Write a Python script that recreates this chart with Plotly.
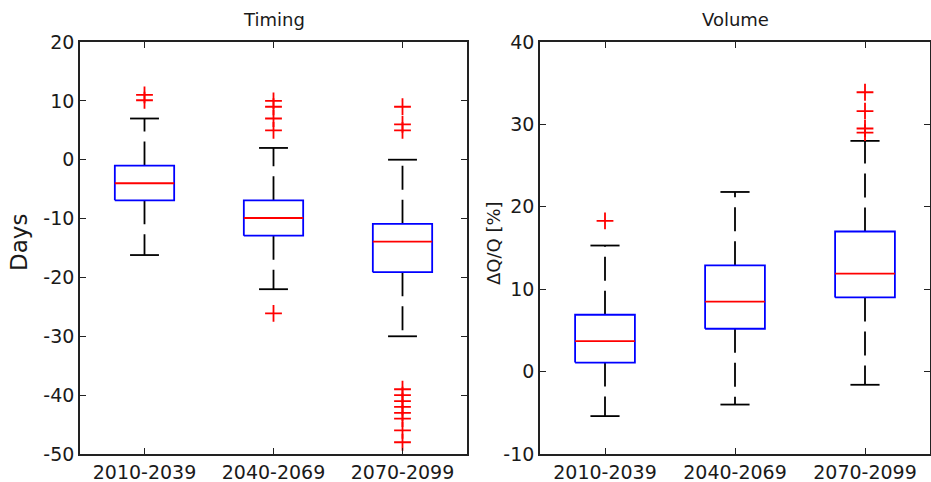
import plotly.graph_objects as go

categories = ["2010-2039", "2040-2069", "2070-2099"]
positions = [1, 2, 3]

timing_ticks = [-50, -40, -30, -20, -10, 0, 10, 20]
timing_ticktext = ["-50", "-40", "-30", "-20", "-10", "0", "10", "20"]
volume_ticks = [-10, 0, 10, 20, 30, 40]
volume_ticktext = ["-10", "0", "10", "20", "30", "40"]

timing_lower = [-16.2, -22.0, -30.0]
timing_q1 = [-6.9, -12.9, -19.1]
timing_median = [-4.0, -9.9, -13.9]
timing_q3 = [-1.0, -6.9, -10.9]
timing_upper = [7.0, 2.0, 0.0]
timing_outliers = [
    [10.1, 11.0],
    [10.0, 9.0, 7.0, 5.0, -26.1],
    [9.0, 6.0, 5.0, -39.0, -40.0, -41.0, -42.0, -43.0, -44.0, -46.0, -48.0],
]

volume_lower = [-5.4, -4.0, -1.6]
volume_q1 = [1.1, 5.2, 9.0]
volume_median = [3.7, 8.5, 11.9]
volume_q3 = [6.9, 12.9, 17.0]
volume_upper = [15.3, 21.8, 28.0]
volume_outliers = [
    [18.3],
    [],
    [33.9, 31.6, 29.5, 29.0],
]

BOX_HALF = 0.23
CAP_HALF = 0.112
LW = 1.8

fig = go.Figure()


def add_boxes(xa, ya, lower, q1, med, q3, upper, outliers):
    for p, lo, a, m, b, up, outs in zip(positions, lower, q1, med, q3, upper, outliers):
        fig.add_trace(go.Scatter(
            x=[p, p, None, p, p], y=[b, up, None, a, lo], mode="lines",
            line=dict(color="black", width=LW, dash="24px,10px"),
            xaxis=xa, yaxis=ya, showlegend=False, hoverinfo="skip"))
        fig.add_trace(go.Scatter(
            x=[p - CAP_HALF, p + CAP_HALF, None, p - CAP_HALF, p + CAP_HALF],
            y=[up, up, None, lo, lo], mode="lines",
            line=dict(color="black", width=LW),
            xaxis=xa, yaxis=ya, showlegend=False, hoverinfo="skip"))
        fig.add_trace(go.Scatter(
            x=[p - BOX_HALF, p + BOX_HALF, p + BOX_HALF, p - BOX_HALF, p - BOX_HALF],
            y=[a, a, b, b, a], mode="lines",
            line=dict(color="#0000ff", width=LW),
            xaxis=xa, yaxis=ya, showlegend=False, hoverinfo="skip"))
        fig.add_trace(go.Scatter(
            x=[p - BOX_HALF, p + BOX_HALF], y=[m, m], mode="lines",
            line=dict(color="#ff0000", width=LW),
            xaxis=xa, yaxis=ya, showlegend=False, hoverinfo="skip"))
        if outs:
            fig.add_trace(go.Scatter(
                x=[p] * len(outs), y=outs, mode="markers",
                marker=dict(symbol="cross-thin", size=12,
                            line=dict(color="#ff0000", width=LW)),
                xaxis=xa, yaxis=ya, showlegend=False, hoverinfo="skip"))


add_boxes("x", "y", timing_lower, timing_q1, timing_median, timing_q3,
          timing_upper, timing_outliers)
add_boxes("x2", "y2", volume_lower, volume_q1, volume_median, volume_q3,
          volume_upper, volume_outliers)

W, H = 931, 482
ydom = [(H - 454) / H, (H - 42) / H]
font = "DejaVu Sans, Verdana, sans-serif"
txt = "#1a1a1a"

axis_common = dict(
    showline=True, linecolor="#222222", linewidth=1.6, mirror="ticks",
    ticks="inside", ticklen=6, tickcolor="#222222", tickwidth=1.3,
    showgrid=False, zeroline=False, automargin=False,
    tickfont=dict(family=font, size=19, color=txt),
)

fig.update_layout(
    width=W, height=H,
    margin=dict(l=0, r=0, t=0, b=0),
    paper_bgcolor="white", plot_bgcolor="white",
    font=dict(family=font, color=txt),
    xaxis=dict(domain=[80 / W, 467 / W], range=[0.5, 3.5], tickvals=positions,
               ticktext=categories, anchor="y", **axis_common),
    yaxis=dict(domain=ydom, range=[-50, 20], tickvals=timing_ticks,
               ticktext=timing_ticktext, anchor="x", **axis_common),
    xaxis2=dict(domain=[540 / W, 930 / W], range=[0.5, 3.5], tickvals=positions,
                ticktext=categories, anchor="y2", **axis_common),
    yaxis2=dict(domain=ydom, range=[-10, 40], tickvals=volume_ticks,
                ticktext=volume_ticktext, anchor="x2", **axis_common),
    annotations=[
        dict(text="Timing", x=(80 + 467) / 2 / W, y=1 - 20 / H, xref="paper", yref="paper",
             showarrow=False, font=dict(family=font, size=18, color=txt),
             xanchor="center", yanchor="middle"),
        dict(text="Volume", x=(540 + 930) / 2 / W, y=1 - 20 / H, xref="paper", yref="paper",
             showarrow=False, font=dict(family=font, size=18, color=txt),
             xanchor="center", yanchor="middle"),
        dict(text="Days", x=19 / W, y=1 - 243 / H, xref="paper", yref="paper",
             showarrow=False, textangle=-90, font=dict(family=font, size=23, color=txt),
             xanchor="center", yanchor="middle"),
        dict(text="ΔQ/Q [%]", x=493 / W, y=1 - 243 / H, xref="paper", yref="paper",
             showarrow=False, textangle=-90, font=dict(family=font, size=18, color=txt),
             xanchor="center", yanchor="middle"),
    ],
)

fig.write_html(
    "out.html",
    config={"displayModeBar": False},
    post_script="document.body.style.margin='0';document.body.style.overflow='hidden';",
)
